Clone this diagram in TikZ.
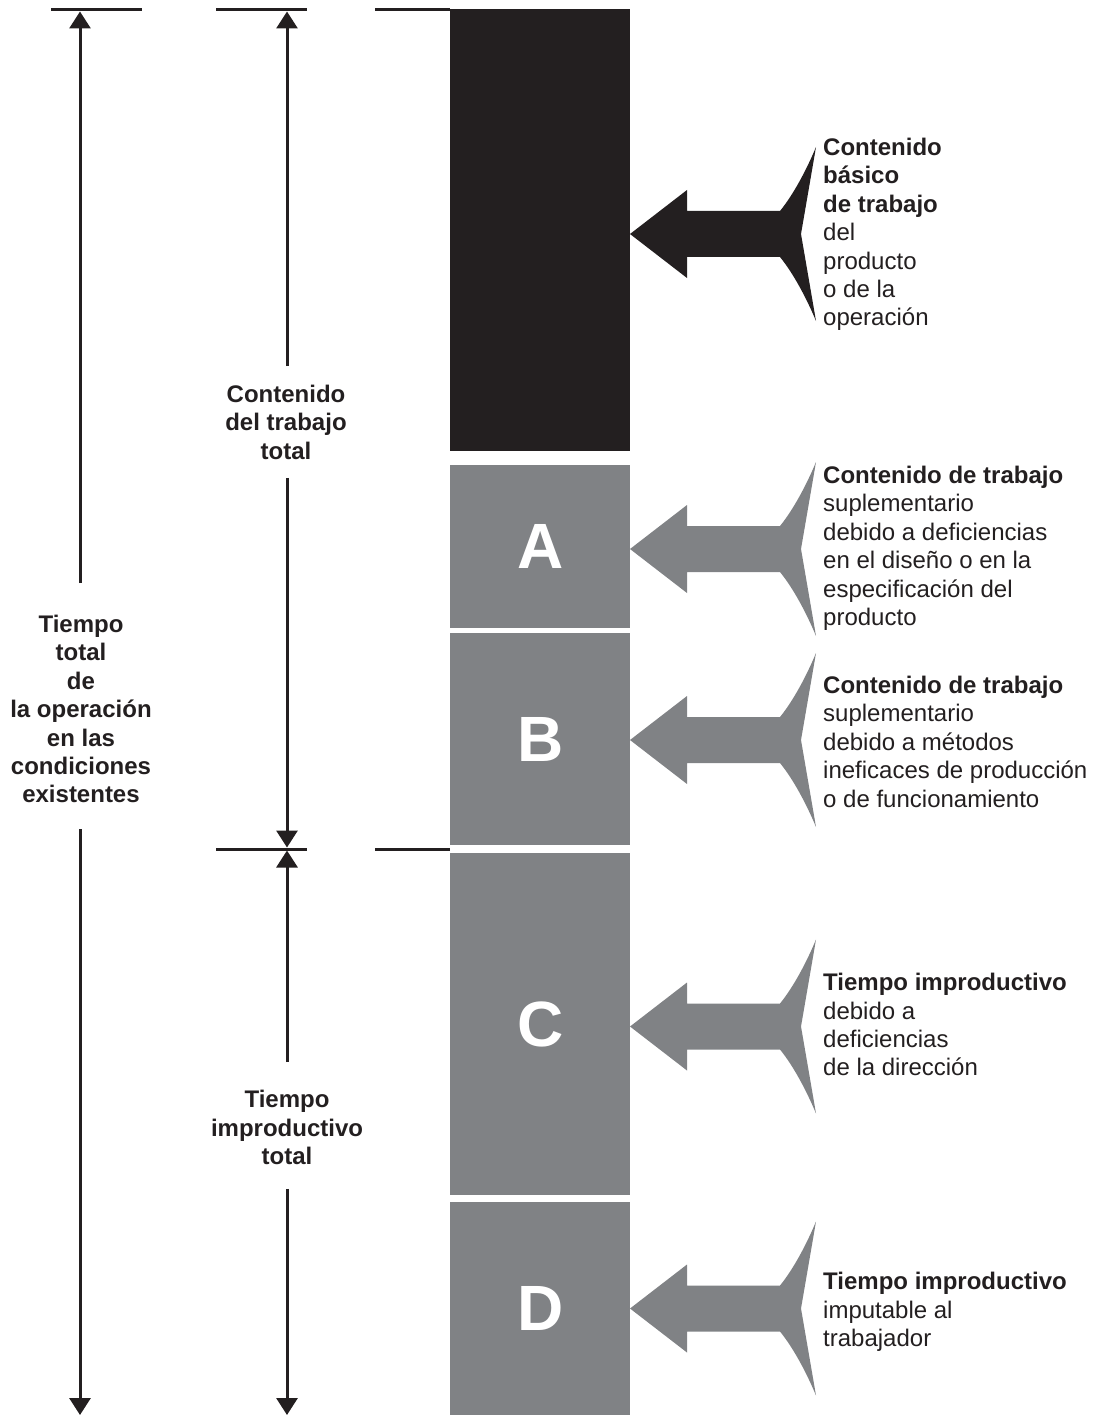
\documentclass[tikz,border=0pt]{standalone}
\usepackage{fontspec}
\setmainfont{Liberation Sans}
\usetikzlibrary{arrows.meta}

\definecolor{ink}{HTML}{231F20}
\definecolor{bargray}{HTML}{808285}

\tikzset{
  txt/.style={inner sep=0pt, text=ink, font=\fontsize{24}{28.4}\selectfont},
  lbl/.style={txt, align=center, anchor=north, font=\fontsize{24}{28.4}\selectfont\bfseries},
  note/.style={txt, align=left, anchor=north west},
  tick/.style={draw=ink, line width=3pt},
  dim/.style={draw=ink, line width=3pt, -{Triangle[length=17pt,width=21pt]}},
  seg/.style={anchor=north west, inner sep=0pt, minimum width=180pt, fill=bargray,
              text=white, font=\fontsize{64}{64}\selectfont\bfseries},
  fishtail/.pic={
    \path[pic actions] (0,0) -- (57,-44) -- (57,-23) -- (150,-23)
      .. controls (163,-39) and (176,-63) .. (186,-87) -- (171,0) -- (186,87)
      .. controls (176,63) and (163,39) .. (150,23) -- (57,23) -- (57,44) -- cycle;
  }
}

\begin{document}
\begin{tikzpicture}[x=1pt, y=-1pt]
\useasboundingbox (0,0) rectangle (1096,1415);

% column of time segments
\node[seg, fill=ink, minimum height=442pt] (base) at (450,9) {};
\node[seg, minimum height=163pt] (segA) at (450,465) {A};
\node[seg, minimum height=212pt] (segB) at (450,633) {B};
\node[seg, minimum height=342pt] (segC) at (450,853) {C};
\node[seg, minimum height=213pt] (segD) at (450,1202) {D};

% limit lines
\draw[tick] (51,10) -- (142,10);
\draw[tick] (216,10) -- (307,10);
\draw[tick] (375,10) -- (450,10);
\draw[tick] (216,849) -- (307,849);
\draw[tick] (375,849) -- (450,849);

% dimension arrow ends
\coordinate (t1) at (80,11.5);
\coordinate (b1) at (80,1415);
\coordinate (t2) at (287,11.5);
\coordinate (m2u) at (287,847.5);
\coordinate (m2d) at (287,850.5);
\coordinate (b2) at (287,1415);

% dimension labels
\node[lbl] (total) at (81,615) {Tiempo\\total\\de\\la operación\\en las\\condiciones\\existentes};
\node[lbl] (work) at (286,385) {Contenido\\del trabajo\\total};
\node[lbl] (idle) at (287,1090) {Tiempo\\improductivo\\total};

% dimension arrows
\draw[dim] ([yshift=32pt]total.north -| t1) -- (t1);
\draw[dim] ([yshift=-25.6pt]total.south -| b1) -- (b1);
\draw[dim] ([yshift=19pt]work.north -| t2) -- (t2);
\draw[dim] ([yshift=-18pt]work.south -| m2u) -- (m2u);
\draw[dim] ([yshift=28pt]idle.north) -- (m2d);
\draw[dim] ([yshift=-24pt]idle.south) -- (b2);

% pointing arrows
\pic[fill=ink] at (630,234) {fishtail};
\pic[fill=bargray] at (630,549) {fishtail};
\pic[fill=bargray] at (630,740) {fishtail};
\pic[fill=bargray] at (630,1026.5) {fishtail};
\pic[fill=bargray] at (630,1308.5) {fishtail};

% descriptions
\node[note] (n0) at (823,138) {\textbf{Contenido}\\\textbf{básico}\\\textbf{de trabajo}\\del\\producto\\o de la\\operación};
\node[note] (nA) at (823,466) {\textbf{Contenido de trabajo}\\suplementario\\debido a deficiencias\\en el diseño o en la\\especificación del\\producto};
\node[note] (nB) at (823,676) {\textbf{Contenido de trabajo}\\suplementario\\debido a métodos\\ineficaces de producción\\o de funcionamiento};
\node[note] (nC) at (823,973) {\textbf{Tiempo improductivo}\\debido a\\deficiencias\\de la dirección};
\node[note] (nD) at (823,1272) {\textbf{Tiempo improductivo}\\imputable al\\trabajador};
\end{tikzpicture}
\end{document}
